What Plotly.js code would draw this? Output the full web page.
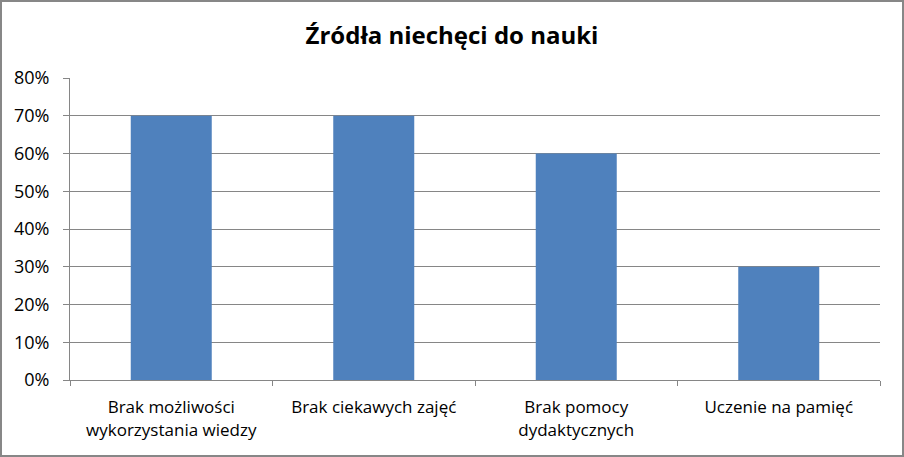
<!DOCTYPE html>
<html>
<head>
<meta charset="utf-8">
<script src="https://cdn.plot.ly/plotly-3.0.1.min.js"></script>
<style>
  html, body { margin: 0; padding: 0; background: #fff; }
  #frame { width: 904px; height: 457px; box-sizing: border-box; border: 2px solid #878787; }
</style>
</head>
<body>
<div id="frame"><div id="chart"></div></div>
<script>
// source data
const categories = [
  'Brak możliwości<br>wykorzystania wiedzy',
  'Brak ciekawych zajęć',
  'Brak pomocy<br>dydaktycznych',
  'Uczenie na pamięć',
];
const shares = [0.7, 0.7, 0.6, 0.3];
const yTicks = [0, 0.1, 0.2, 0.3, 0.4, 0.5, 0.6, 0.7, 0.8];

const font = 'Open Sans, Liberation Sans, Arial, sans-serif';
const gray = '#868686';

const traces = [{
  type: 'bar',
  x: categories,
  y: shares,
  marker: { color: '#4F81BD' },
  hoverinfo: 'skip',
}];

const layout = {
  width: 900,
  height: 453,
  margin: { l: 68, r: 22, t: 76, b: 75 },
  paper_bgcolor: '#fff',
  plot_bgcolor: '#fff',
  showlegend: false,
  bargap: 0.6,
  title: {
    text: '<b>Źródła niechęci do nauki</b>',
    font: { family: font, size: 24, color: '#000' },
    x: 0.5,
    xanchor: 'center',
    y: 0.925,
    yanchor: 'middle',
  },
  xaxis: {
    type: 'category',
    showline: true,
    linecolor: gray,
    linewidth: 1,
    ticks: 'outside',
    tickson: 'boundaries',
    ticklen: 5,
    tickcolor: gray,
    tickfont: { family: font, size: 17, color: '#000' },
    ticklabelstandoff: 12,
    showgrid: false,
  },
  yaxis: {
    range: [0, 0.8],
    tickvals: yTicks,
    tickformat: '.0%',
    showline: true,
    linecolor: gray,
    linewidth: 1,
    ticks: 'outside',
    ticklen: 6,
    tickcolor: gray,
    tickfont: { family: font, size: 18, color: '#000' },
    ticklabelstandoff: 10,
    showgrid: true,
    gridcolor: gray,
    gridwidth: 1,
    zeroline: false,
  },
};

Plotly.newPlot('chart', traces, layout, { displayModeBar: false, staticPlot: true });
</script>
</body>
</html>
